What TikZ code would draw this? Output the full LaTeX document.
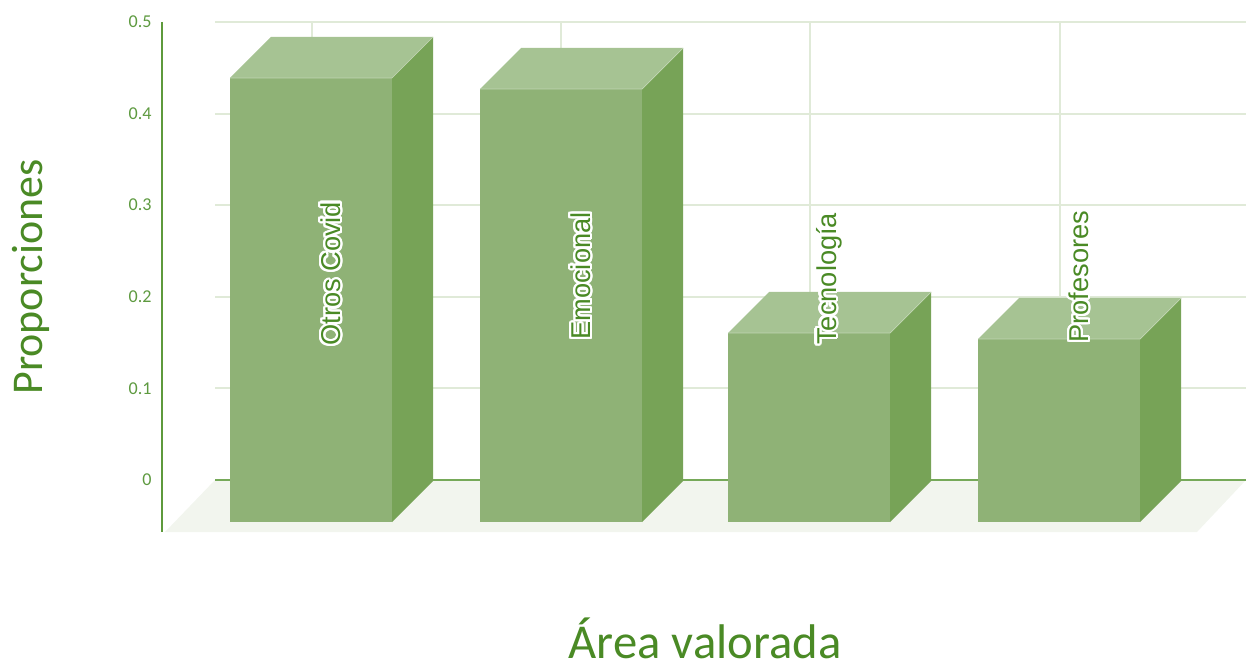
\documentclass[tikz,border=0pt]{standalone}
\usepackage{fontspec}
\setmainfont{Carlito}
\newfontfamily\barfont{Liberation Sans}
\usepackage{contour}
\contourlength{1.3pt}
\contournumber{24}
\usepackage{xcolor}
\usetikzlibrary{calc}
\definecolor{barfront}{HTML}{8FB276}
\definecolor{bartop}{HTML}{A6C393}
\definecolor{barside}{HTML}{77A357}
\definecolor{gridgreen}{HTML}{E0EAD8}
\definecolor{floorgray}{HTML}{F2F5EE}
\definecolor{axisgreen}{HTML}{5E9A3C}
\definecolor{labelgreen}{HTML}{4A8A25}
\definecolor{tickgreen}{HTML}{5E9A40}
\tikzstyle{frontface}=[fill=barfront]
\tikzstyle{topface}=[fill=bartop]
\tikzstyle{sideface}=[fill=barside]
\tikzstyle{gridline}=[draw=gridgreen, line width=1.2pt]
\tikzstyle{barlabel}=[rotate=90, anchor=west, inner sep=0pt, text=labelgreen, font=\barfont\fontsize{15.5}{18}\selectfont]
\tikzstyle{ticklabel}=[anchor=east, inner sep=0pt, text=tickgreen, font=\fontsize{10.3}{12}\selectfont]
\tikzstyle{axistitle}=[inner sep=0pt, text=labelgreen]
\newcommand{\greenBar}[5]{
	\fill[frontface] (#2,522) rectangle (#2+162,#3);
	\fill[sideface] (#2+162,522) -- (#2+162,#3) -- (#2+203,#3-41) -- (#2+203,481) -- cycle;
	\fill[topface] (#2,#3) -- (#2+41,#3-41) -- (#2+203,#3-41) -- (#2+162,#3) -- cycle;
	\draw[bartop!70!white, line width=0.4pt] (#2,#3) -- (#2+162,#3) -- (#2+203,#3-41);
	\node[barlabel] (#1) at (#2+102,#4) {\contour{white}{#5}};
}

\begin{document}
\begin{tikzpicture}[x=0.02cm, y=-0.02cm]
	\useasboundingbox (0,0) rectangle (1246,661);
	\fill[floorgray] (165,532) -- (215,480) -- (1246,480) -- (1197,532) -- cycle;
	\foreach \i in {1,...,5}
		\draw[gridline] (215,480-91.6*\i) -- (1246,480-91.6*\i);
	\foreach \xx in {312,561,810,1060}
		\draw[gridline] (\xx,22) -- (\xx,480);
	\draw[axisgreen!85!white, line width=1.3pt] (215,480) -- (1246,480);
	\draw[axisgreen, line width=1.2pt] (162,22) -- (162,532);
	\foreach \lbl [count=\i from 0] in {0,0.1,0.2,0.3,0.4,0.5}
		\node[ticklabel] (tick\i) at (152,480-91.6*\i) {\lbl};
	\greenBar{otros}{230}{78}{346}{Otros Covid}
	\greenBar{emoc}{480}{89}{340}{Emocional}
	\greenBar{tecno}{728}{333}{345}{Tecnología}
	\greenBar{prof}{978}{339}{343}{Profesores}
	\node[axistitle, rotate=90, font=\fontsize{25}{30}\selectfont] (ytitle) at (31,277) {Proporciones};
	\node[axistitle, font=\fontsize{27.7}{32}\selectfont] (xtitle) at (705,638) {Área valorada};
\end{tikzpicture}
\end{document}
